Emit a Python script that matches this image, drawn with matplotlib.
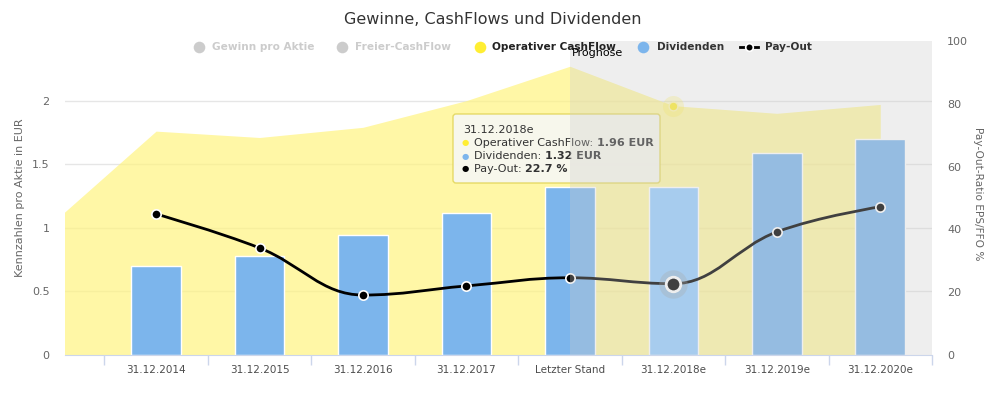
import numpy as np
import matplotlib
matplotlib.use("Agg")
import matplotlib.pyplot as plt
from matplotlib.path import Path
from matplotlib.patches import PathPatch, FancyBboxPatch, Rectangle
import matplotlib.transforms as mtransforms

# ---------------- data ----------------
categories = ["31.12.2014", "31.12.2015", "31.12.2016", "31.12.2017",
              "Letzter Stand", "31.12.2018e", "31.12.2019e", "31.12.2020e"]
cashflow_prev = 1.04          # preceding period (31.12.2013), only partly visible at left edge
cashflow = [1.76, 1.71, 1.79, 2.00, 2.27, 1.96, 1.90, 1.97]
dividends = [0.70, 0.78, 0.94, 1.12, 1.32, 1.32, 1.59, 1.70]
payout = [44.9, 34.1, 19.1, 22.0, 24.6, 22.7, 39.2, 47.2]
left_ticks = [0, 0.5, 1, 1.5, 2]
left_tick_labels = ["0", "0.5", "1", "1.5", "2"]
right_ticks = [0, 20, 40, 60, 80, 100]
legend_labels = ["Gewinn pro Aktie", "Freier-CashFlow", "Operativer CashFlow", "Dividenden", "Pay-Out"]
title = "Gewinne, CashFlows und Dividenden"
forecast_label = "Prognose"
hover_index = 5
forecast_start = 4

# ---------------- style ----------------
C_YELLOW = "#FFF480"
C_YELLOW_DOT = "#FFEE33"
C_BLUE = "#7CB5EC"
C_BLUE_HOVER = "#97CDFE"
C_GRID = "#E6E6E6"
C_AXIS = "#CCD6EB"
C_LABEL = "#666666"
C_TITLE = "#333333"

plt.rcParams["font.family"] = ["DejaVu Sans"]

W, H = 1000, 393
fig = plt.figure(figsize=(W / 100, H / 100), dpi=100)

def fx(px):
    return px / W

def fy(py):
    return 1 - py / H

ax_left, ax_right, ax_top, ax_bottom = 65, 932, 37, 355
ax = fig.add_axes([fx(ax_left), fy(ax_bottom), (ax_right - ax_left) / W, (ax_bottom - ax_top) / H])
ax2 = ax.twinx()

n = len(categories)
x = np.arange(n)
xmin, xmax = -0.88, 7.5
ax.set_xlim(xmin, xmax)
ax.set_ylim(0, 2.5)
band_top = (ax_bottom - 41) / (ax_bottom - ax_top)      # plot area top (axes fraction)
ax2.set_ylim(0, 100 / band_top)

# gridlines
for t in left_ticks[1:]:
    ax.axhline(t, color=C_GRID, lw=1, zorder=0.5)

# area (Operativer CashFlow)
xa = np.concatenate([[-1], x])
ya = np.concatenate([[cashflow_prev], cashflow])
ax.fill_between(xa, 0, ya, color=C_YELLOW, alpha=0.7, lw=0, zorder=1)

# bars (Dividenden)
bar_colors = [C_BLUE_HOVER if i == hover_index else C_BLUE for i in range(n)]
ax.bar(x, dividends, width=0.48, color=bar_colors, edgecolor="white", linewidth=1, zorder=2)

# hover marker on area
ax.scatter([x[hover_index]], [cashflow[hover_index]], s=230, color=C_YELLOW_DOT, alpha=0.25, lw=0, zorder=3)
ax.scatter([x[hover_index]], [cashflow[hover_index]], s=40, color=C_YELLOW_DOT, edgecolor="#FFF7B0", lw=1, zorder=3.1)

# spline (Highcharts-like smoothing)
def spline_path(xs, ys, smoothing=1.5):
    xs = list(map(float, xs)); ys = list(map(float, ys))
    m = len(xs)
    lc = [(xs[i], ys[i]) for i in range(m)]
    rc = [(xs[i], ys[i]) for i in range(m)]
    den = smoothing + 1
    for i in range(1, m - 1):
        px_, py_ = xs[i], ys[i]
        lx, ly = xs[i - 1], ys[i - 1]
        nx, ny = xs[i + 1], ys[i + 1]
        lcx = (smoothing * px_ + lx) / den
        lcy = (smoothing * py_ + ly) / den
        rcx = (smoothing * px_ + nx) / den
        rcy = (smoothing * py_ + ny) / den
        if rcx != lcx:
            corr = ((rcy - lcy) * (rcx - px_)) / (rcx - lcx) + py_ - rcy
            lcy += corr
            rcy += corr
        if lcy > ly and lcy > py_:
            lcy = max(ly, py_); rcy = 2 * py_ - lcy
        elif lcy < ly and lcy < py_:
            lcy = min(ly, py_); rcy = 2 * py_ - lcy
        if rcy > ny and rcy > py_:
            rcy = max(ny, py_); lcy = 2 * py_ - rcy
        elif rcy < ny and rcy < py_:
            rcy = min(ny, py_); lcy = 2 * py_ - rcy
        lc[i] = (lcx, lcy)
        rc[i] = (rcx, rcy)
    verts = [(xs[0], ys[0])]
    codes = [Path.MOVETO]
    for i in range(1, m):
        verts += [rc[i - 1], lc[i], (xs[i], ys[i])]
        codes += [Path.CURVE4] * 3
    return Path(verts, codes)

ax2.add_patch(PathPatch(spline_path(x, payout), facecolor="none", edgecolor="black", lw=2, zorder=4))
mask = [i for i in range(n) if i != hover_index]
ax2.scatter(x[mask], np.array(payout)[mask], s=45, color="black", edgecolor="white", lw=1.2, zorder=5)
# hover marker
ax2.scatter([x[hover_index]], [payout[hover_index]], s=420, color="#999999", alpha=0.3, lw=0, zorder=5)
ax2.scatter([x[hover_index]], [payout[hover_index]], s=110, color="black", edgecolor="white", lw=2, zorder=5.1)

# tooltip
inch = fig.dpi_scale_trans
tx0, ty0, tw, th = 453, 114, 207, 69
box = FancyBboxPatch((tx0 / 100, (H - ty0 - th) / 100), tw / 100, th / 100,
                     boxstyle="round,pad=0,rounding_size=0.03", transform=inch,
                     facecolor="#F7F7F7", alpha=0.88, edgecolor="#E2D65A", lw=1, zorder=6, clip_on=False)
ax2.add_patch(box)
fs_tt = 8
ax2.text(463 / 100, (H - 130) / 100, "31.12.2018e", transform=inch, fontsize=fs_tt, color="#333333",
         va="center", ha="left", zorder=7, clip_on=False)
rows = [("Operativer CashFlow: ", "1.96 EUR", C_YELLOW_DOT, 143),
        ("Dividenden: ", "1.32 EUR", C_BLUE, 156),
        ("Pay-Out: ", "22.7 %", "black", 169)]
for lab, val, col, yy in rows:
    ax2.text(462 / 100, (H - yy) / 100, "●", transform=inch, fontsize=6, color=col,
             va="center", ha="left", zorder=7, clip_on=False)
    t = ax2.text(474 / 100, (H - yy) / 100, lab, transform=inch, fontsize=fs_tt, color="#333333",
                 va="center", ha="left", zorder=7, clip_on=False)
    ax2.annotate(val, xy=(1, 0.5), xycoords=t, va="center", ha="left", fontsize=fs_tt,
                 fontweight="bold", color="#333333", zorder=7, annotation_clip=False)

# forecast overlay band
band = Rectangle((forecast_start, 0), xmax - forecast_start, band_top,
                 transform=mtransforms.blended_transform_factory(ax2.transData, ax2.transAxes),
                 facecolor="#CCCCCC", alpha=0.316, lw=0, zorder=10)
ax2.add_patch(band)

# axes styling
for a in (ax, ax2):
    for s in ("top", "left", "right"):
        a.spines[s].set_visible(False)
ax.spines["bottom"].set_color(C_AXIS)
ax2.spines["bottom"].set_visible(False)
ax.spines["bottom"].set_zorder(3)

ax.set_xticks(x)
ax.set_xticklabels(categories, fontsize=7.5, color="#4D4D4D")
ax.set_xticks(np.arange(-0.5, n, 1.0), minor=True)
ax.tick_params(axis="x", which="major", length=0, pad=7)
ax.tick_params(axis="x", which="minor", length=7.2, color=C_AXIS, width=1)

ax.set_yticks(left_ticks)
ax.set_yticklabels(left_tick_labels, fontsize=8, color=C_LABEL)
ax.tick_params(axis="y", length=0, pad=11)
ax2.set_yticks(right_ticks)
ax2.set_yticklabels([str(v) for v in right_ticks], fontsize=8, color=C_LABEL)
ax2.tick_params(axis="y", length=0, pad=11)

# titles
fig.text(fx(493), fy(20), title, fontsize=11.5, color=C_TITLE, ha="center", va="center")
fig.text(fx(20), fy(198), "Kennzahlen pro Aktie in EUR", rotation=90, fontsize=8,
         color=C_LABEL, ha="center", va="center")
fig.text(fx(978), fy(194), "Pay-Out-Ratio EPS/FFO %", rotation=270, fontsize=7.6,
         color=C_LABEL, ha="center", va="center")

# legend (overlay axes in pixel coords)
lg = fig.add_axes([0, 0, 1, 1], zorder=20)
lg.set_xlim(0, W); lg.set_ylim(H, 0); lg.axis("off"); lg.patch.set_visible(False)
ly = 47
items = [(198.6, 211.5, "#CCCCCC", "#CCCCCC", legend_labels[0]),
         (341.7, 354.7, "#CCCCCC", "#CCCCCC", legend_labels[1]),
         (479.6, 492.0, C_YELLOW_DOT, "#222222", legend_labels[2]),
         (643.0, 657.0, C_BLUE, "#333333", legend_labels[3])]
for cx, tx, ccol, tcol, lab in items:
    lg.scatter([cx], [ly], s=70, color=ccol, lw=0)
    lg.text(tx, ly, lab, fontsize=7.6, fontweight="bold", color=tcol, ha="left", va="center")
lg.plot([740, 758], [ly, ly], color="black", lw=2)
lg.scatter([749], [ly], s=30, color="black", edgecolor="white", lw=1.2, zorder=3)
lg.text(765, ly, legend_labels[4], fontsize=7.6, fontweight="bold", color="#333333", ha="left", va="center")

lg.text(572, 53, forecast_label, fontsize=8, color="black", ha="left", va="center", zorder=5)

fig.savefig("out.png", dpi=100)
